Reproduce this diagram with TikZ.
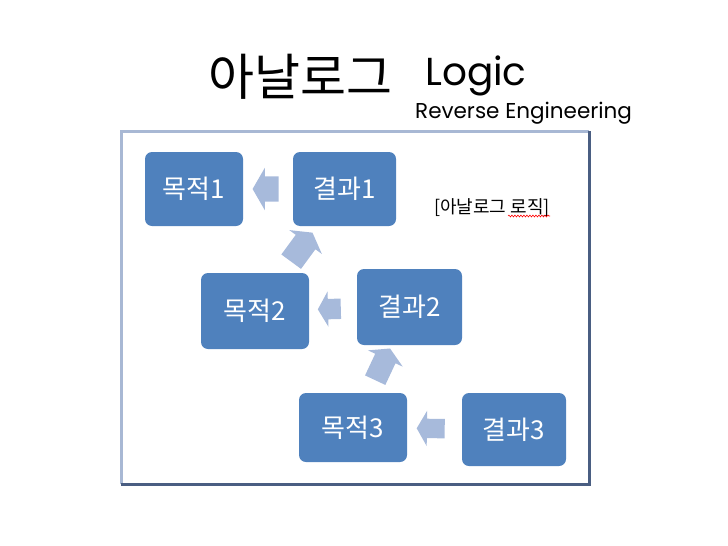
\documentclass[tikz,border=0pt]{standalone}
\usepackage{fontspec}
\newfontfamily\kr{Noto Sans CJK KR}
\newfontfamily\lat{Poppins}
\usetikzlibrary{shapes.arrows,decorations.pathmorphing}
\definecolor{boxblue}{RGB}{79,129,189}
\definecolor{arrblue}{RGB}{167,186,219}
\definecolor{framelight}{RGB}{168,184,212}
\definecolor{framedark}{RGB}{74,94,130}
\tikzset{
  box/.style={rounded corners=7pt, fill=boxblue, text=white, font=\kr\fontsize{26}{30}\selectfont, inner sep=0pt},
  flow/.style={single arrow, fill=arrblue, inner xsep=0pt, single arrow tip angle=120, sloped, allow upside down, midway, anchor=center},
}
\begin{document}
\begin{tikzpicture}[x=1pt,y=-1pt]
\useasboundingbox (0,0) rectangle (728,546);
% title
\node[anchor=base, font=\kr\fontsize{50}{54}\selectfont] (t1) at (300,95) {아날로그};
\node[anchor=base west, font=\lat\fontsize{39}{44}\selectfont, inner sep=0pt] (t2) at (425,85) {Logic};
\node[anchor=base west, font=\lat\fontsize{21.5}{24}\selectfont, inner sep=0pt] (t3) at (415,118) {Reverse Engineering};
% frame
\draw[framelight, line width=3pt] (121,484) -- (121,131) -- (589,131);
\draw[framedark, line width=3pt] (589,131) -- (589,484) -- (121,484);
% boxes
\node[box, minimum width=98pt, minimum height=74pt] (m1) at (194,189) {목적1};
\node[box, minimum width=103pt, minimum height=74pt] (r1) at (344.5,189) {결과1};
\node[box, minimum width=108pt, minimum height=76pt] (m2) at (255,311) {목적2};
\node[box, minimum width=105pt, minimum height=76pt] (r2) at (409.5,307) {결과2};
\node[box, minimum width=108pt, minimum height=69pt] (m3) at (353,427.5) {목적3};
\node[box, minimum width=104pt, minimum height=73pt] (r3) at (514,429.5) {결과3};
% arrows
\path (r1.center) -- node[flow, minimum height=26pt, inner ysep=12.5pt, single arrow head extend=8.5pt] (a1) {} (m1.center);
\path (m2.center) -- node[flow, minimum height=36pt, inner ysep=12pt, single arrow head extend=8pt] (a2) {} (r1.center);
\path (r2.center) -- node[flow, minimum height=23pt, inner ysep=10pt, single arrow head extend=7.5pt] (a3) {} (m2.center);
\path (m3.center) -- node[flow, minimum height=35pt, inner ysep=11pt, single arrow head extend=8pt] (a4) {} (r2.center);
\path (r3.center) -- node[flow, minimum height=28pt, inner ysep=9.5pt, single arrow head extend=8pt] (a5) {} (m3.center);
% label
\node[font=\kr\fontsize{18}{20}\selectfont, inner sep=0pt] (lbl) at (492,208) {[아날로그 로직]};
\draw[red, line width=0.6pt, decorate, decoration={snake, amplitude=0.9pt, segment length=3pt}] (508,216) -- (550,216);
\end{tikzpicture}
\end{document}
